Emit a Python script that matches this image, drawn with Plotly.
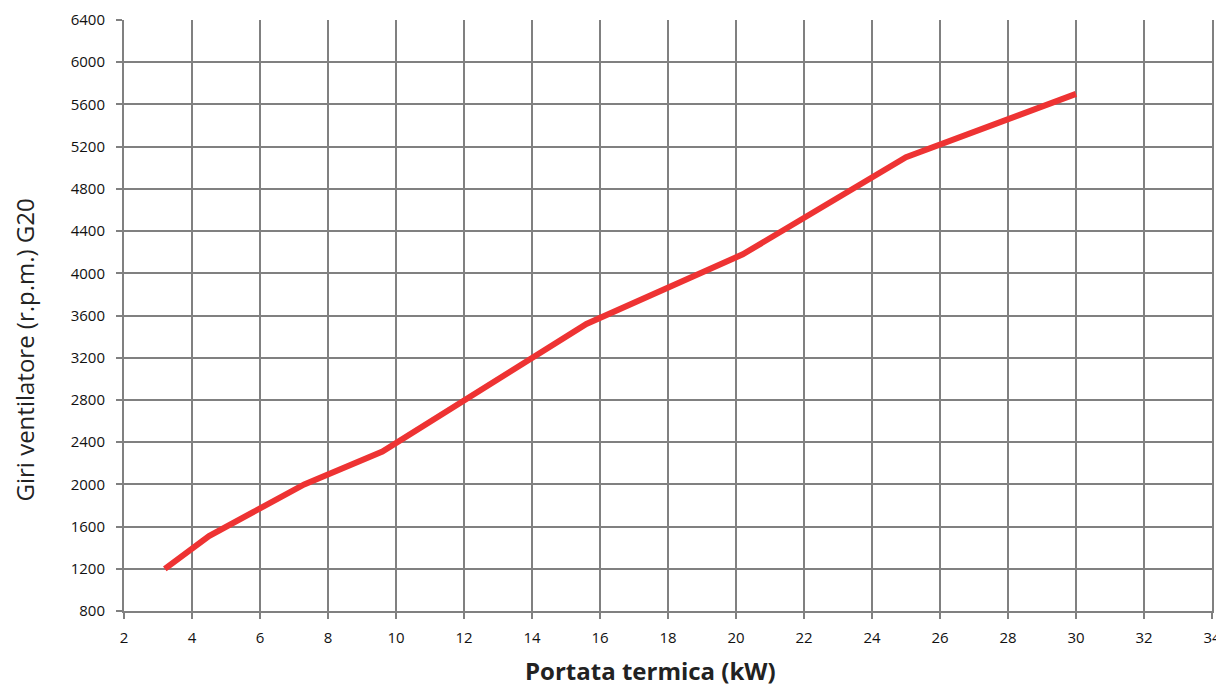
import plotly.graph_objects as go

# Data
portata_kw = [3.2, 4.0, 4.5, 7.3, 9.6, 15.6, 20.2, 25.0, 30.0]
giri_rpm = [1200, 1400, 1510, 2000, 2310, 3520, 4180, 5100, 5700]

x_ticks = list(range(2, 36, 2))
y_ticks = list(range(800, 6800, 400))

x_title = "<b>Portata termica (kW)</b>"
y_title = "Giri ventilatore (r.p.m.) G20"

GRID = "#808080"

fig = go.Figure()
fig.add_trace(go.Scatter(
    x=portata_kw, y=giri_rpm, mode="lines",
    line=dict(color="#EE3333", width=6),
    showlegend=False, hoverinfo="x+y",
))

# The page body adds an 8px margin, so the figure is sized to fit the window
fig.update_layout(
    width=1216, height=681,
    margin=dict(l=116, r=12, t=12, b=78, autoexpand=False),
    paper_bgcolor="white", plot_bgcolor="white",
    font=dict(family="Open Sans, Noto Sans, sans-serif", color="#111111", size=15),
)
fig.update_xaxes(
    range=[2, 34], tickvals=x_ticks, ticktext=[str(v) for v in x_ticks],
    showgrid=True, gridcolor=GRID, gridwidth=2,
    showline=True, linecolor=GRID, linewidth=2,
    ticks="outside", ticklen=6, tickcolor=GRID, tickwidth=2,
    ticklabelstandoff=6,
    zeroline=False, automargin=False,
    tickfont=dict(size=15),
)
fig.update_yaxes(
    range=[800, 6400], tickvals=y_ticks, ticktext=[str(v) for v in y_ticks],
    showgrid=True, gridcolor=GRID, gridwidth=2,
    showline=True, linecolor=GRID, linewidth=2, mirror=True,
    ticks="outside", ticklen=6, tickcolor=GRID, tickwidth=2,
    ticklabelstandoff=8,
    zeroline=False, automargin=False,
    tickfont=dict(size=15),
)

fig.add_annotation(
    text=x_title, xref="paper", yref="paper", x=0.4835, y=-0.1015,
    xanchor="center", yanchor="middle", showarrow=False,
    font=dict(size=24, color="#222222"),
)
fig.add_annotation(
    text=y_title, xref="paper", yref="paper", x=-0.0915, y=0.4416,
    xanchor="center", yanchor="middle", showarrow=False, textangle=-90,
    font=dict(size=24, color="#222222"),
)

fig.write_html("out.html")
